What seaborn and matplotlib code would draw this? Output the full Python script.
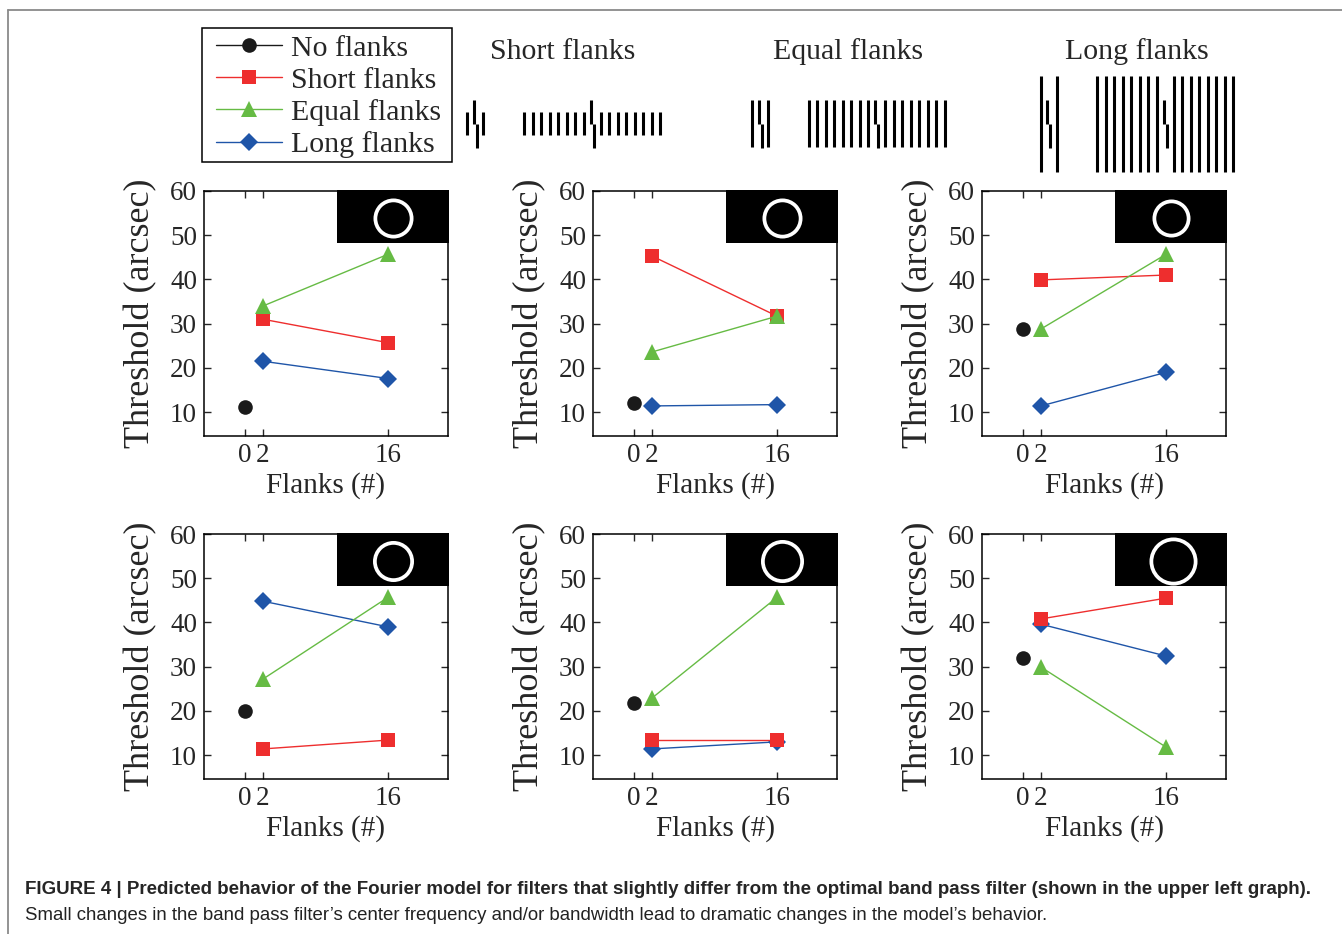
import matplotlib
matplotlib.use("Agg")
import matplotlib.pyplot as plt
import seaborn as sns
import pandas as pd
from matplotlib.patches import Rectangle
from matplotlib.lines import Line2D

# ---------------- data ----------------
series_names = ["No flanks", "Short flanks", "Equal flanks", "Long flanks"]
flank_counts = [2, 16]
no_flank_count = [0]
# one entry per panel, row-major (top-left .. bottom-right)
no_flanks = [11.2, 12.1, 28.7, 20.0, 21.8, 32.0]
short_flanks = [[31.0, 25.7], [45.3, 31.7], [39.9, 41.0],
                [11.4, 13.4], [13.4, 13.4], [40.8, 45.5]]
equal_flanks = [[34.0, 45.7], [23.6, 31.7], [28.8, 45.7],
                [27.2, 45.7], [22.9, 45.7], [29.9, 11.8]]
long_flanks = [[21.5, 17.6], [11.4, 11.7], [11.4, 19.0],
               [44.8, 39.0], [11.4, 13.0], [39.6, 32.4]]
x_ticks = [0, 2, 16]
y_ticks = [10, 20, 30, 40, 50, 60]
stim_titles = ["Short flanks", "Equal flanks", "Long flanks"]
caption_bold = ("FIGURE 4 | Predicted behavior of the Fourier model for filters that slightly "
                "differ from the optimal band pass filter (shown in the upper left graph).")
caption_text = ("Small changes in the band pass filter\u2019s center frequency and/or bandwidth "
                "lead to dramatic changes in the model\u2019s behavior.")

# ---------------- style ----------------
colors = {"No flanks": "#1a1a1a", "Short flanks": "#ee2e2e",
          "Equal flanks": "#66bb44", "Long flanks": "#1f55a8"}
markers = {"No flanks": "o", "Short flanks": "s", "Equal flanks": "^", "Long flanks": "D"}
msizes = {"No flanks": 10.5, "Short flanks": 9.5, "Equal flanks": 11.5, "Long flanks": 9}
circle_px = [40, 40, 38, 41, 43, 48]   # outer diameter of the white ring (px)

sns.set_style("ticks")
plt.rcParams["font.family"] = ["Liberation Serif", "DejaVu Serif"]
plt.rcParams["axes.linewidth"] = 1.1

W, H = 1342, 934
fig = plt.figure(figsize=(W / 100, H / 100), dpi=100)

# background overlay in pixel coordinates
bg = fig.add_axes([0, 0, 1, 1], zorder=-5)
bg.set_xlim(0, W)
bg.set_ylim(H, 0)
bg.axis("off")
bg.add_line(Line2D([8, W + 5], [10, 10], color="#8a8a8a", lw=1.3))
bg.add_line(Line2D([8, 8], [10, H + 5], color="#8a8a8a", lw=1.3))

# ---------------- panels ----------------
col_left = [204, 593, 982]
row_top = [191, 534]
aw, ah = 244, 245

rows = []
for p in range(6):
    rows.append(dict(panel=p, series="No flanks", flanks=no_flank_count[0], threshold=no_flanks[p]))
    for name, arr in [("Short flanks", short_flanks), ("Equal flanks", equal_flanks),
                      ("Long flanks", long_flanks)]:
        for xv, yv in zip(flank_counts, arr[p]):
            rows.append(dict(panel=p, series=name, flanks=xv, threshold=yv))
df = pd.DataFrame(rows)

for p in range(6):
    r, c = divmod(p, 3)
    l = col_left[c] / W
    b = 1 - (row_top[r] + ah) / H
    ax = fig.add_axes([l, b, aw / W, ah / H])
    d = df[df.panel == p]
    for name in ["Long flanks", "Short flanks", "Equal flanks", "No flanks"]:
        ds = d[d.series == name]
        sns.lineplot(data=ds, x="flanks", y="threshold", ax=ax, color=colors[name],
                     marker=markers[name], markersize=msizes[name], mec=colors[name],
                     mew=0, lw=1.0, legend=False, zorder=3)
    ax.set_xlim(-4.6, 22.7)
    ax.set_ylim(4.6, 60)
    ax.set_xticks(x_ticks)
    ax.set_yticks(y_ticks)
    ax.tick_params(direction="in", top=True, right=True, length=5, width=1,
                   labelsize=19.5, pad=5)
    ax.set_xlabel("Flanks (#)", fontsize=21, labelpad=3)
    ax.set_ylabel("Threshold (arcsec)", fontsize=26, labelpad=9)
    # inset: black box with white ring (filter illustration)
    ax.add_patch(Rectangle((0.544, 0.788), 0.46, 0.215, transform=ax.transAxes,
                           facecolor="black", edgecolor="none", zorder=4, clip_on=False))
    cx = 0.784 if p == 5 else 0.775
    mew_pt = 2.7
    ms_pt = circle_px[p] * 0.72 - mew_pt
    ax.plot([cx], [0.89], transform=ax.transAxes, marker="o", ms=ms_pt, mfc="none",
            mec="white", mew=mew_pt, zorder=5, clip_on=False)
    for s in ax.spines.values():
        s.set_visible(True)
        s.set_color("black")

# ---------------- legend ----------------
bg.add_patch(Rectangle((202, 28), 250, 134, facecolor="white", edgecolor="black",
                       lw=1.1, zorder=1))
handles = [Line2D([], [], color=colors[n], marker=markers[n], markersize=msizes[n],
                  mec=colors[n], mew=0, lw=1.0) for n in series_names]
leg = fig.legend(handles, series_names, loc="upper left",
                 bbox_to_anchor=(216 / W, 1 - 35 / H), fontsize=21.5,
                 frameon=False, handlelength=2.2, handletextpad=0.3, borderpad=0,
                 labelspacing=0.17, borderaxespad=0)

# ---------------- stimulus illustrations ----------------
title_x = [563, 848, 1137]
for tx, t in zip(title_x, stim_titles):
    bg.text(tx, 52, t, ha="center", va="center", fontsize=21.5)

v_top, v_mid, v_bot = 100, 123.5, 147.5
flank_half = [11.7, 23.7, 48]
left_centers = [475.3, 760.0, 1048.5]
right_centers = [592.0, 876.5, 1165.0]
spacing = 8.5
n_side = [1, 8]
bar_lw = 2.2
for k in range(3):
    for center, n in [(left_centers[k], n_side[0]), (right_centers[k], n_side[1])]:
        sp = spacing if n > 1 else 8.0
        for i in range(1, n + 1):
            for sgn in (-1, 1):
                xx = center + sgn * i * sp
                bg.add_line(Line2D([xx, xx], [v_mid - flank_half[k], v_mid + flank_half[k]],
                                   color="black", lw=bar_lw, solid_capstyle="butt"))
        bg.add_line(Line2D([center - 1.5, center - 1.5], [v_top, v_mid],
                           color="black", lw=bar_lw, solid_capstyle="butt"))
        bg.add_line(Line2D([center + 1.5, center + 1.5], [v_mid, v_bot],
                           color="black", lw=bar_lw, solid_capstyle="butt"))

# ---------------- caption ----------------
cap_font = ["Liberation Sans Narrow", "Liberation Sans", "DejaVu Sans"]
bg.text(25, 889, caption_bold, ha="left", va="center", fontsize=13.52,
        fontweight="bold", family=cap_font)
bg.text(25, 915, caption_text, ha="left", va="center", fontsize=13.42,
        family=cap_font, color="#222222")

fig.savefig("out.png", dpi=100)
